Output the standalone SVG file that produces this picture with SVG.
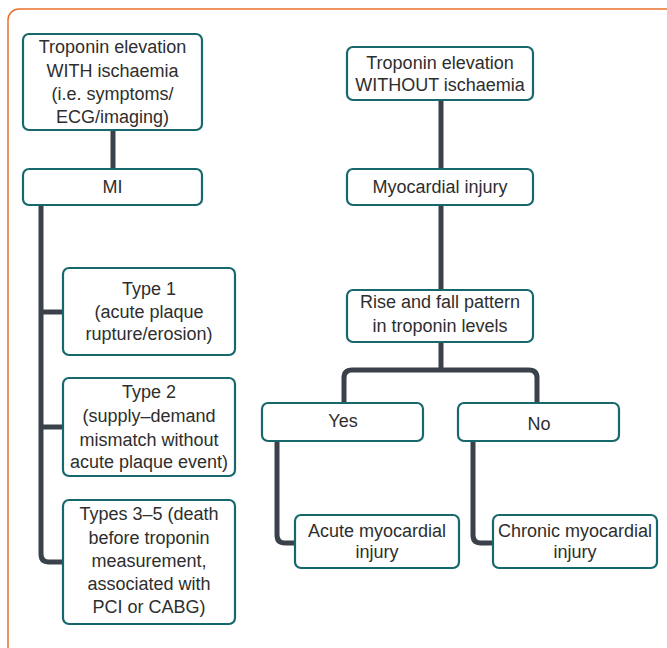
<svg xmlns="http://www.w3.org/2000/svg" width="667" height="648" viewBox="0 0 667 648">
<style>
.frame{fill:none;stroke:#E8712E;stroke-width:1.5}
.box{fill:#fff;stroke:#17686C;stroke-width:2.2}
.con{fill:none;stroke:#3B414B;stroke-width:5;stroke-linejoin:round}
text{font-family:"Liberation Sans",Arial,sans-serif;font-size:18px;fill:#2E2E2E;text-anchor:middle}
</style>
<rect width="667" height="648" fill="#fff"/>
<rect class="frame" x="8" y="9" width="720" height="700" rx="11"/>
<g id="connectors">
<path class="con" d="M113 130V169"/>
<path class="con" d="M41 205V554q0 8 8 8H63"/>
<path class="con" d="M41 312H63"/>
<path class="con" d="M41 427H63"/>
<path class="con" d="M441 100V169"/>
<path class="con" d="M441 205V290"/>
<path class="con" d="M441 342V370"/>
<path class="con" d="M344 403V378q0-8 8-8H529q8 0 8 8V403"/>
<path class="con" d="M277 441V535q0 8 8 8H295"/>
<path class="con" d="M473 441V535q0 8 8 8H493"/>
</g>
<g id="with">
<rect class="box" x="23" y="34" width="179" height="96" rx="6"/>
<text x="112.5" y="53">Troponin elevation</text>
<text x="112.5" y="77">WITH ischaemia</text>
<text x="112.5" y="100">(i.e. symptoms/</text>
<text x="112.5" y="123">ECG/imaging)</text>
</g>
<g id="mi">
<rect class="box" x="23" y="169" width="179" height="36" rx="6"/>
<text x="112.5" y="193">MI</text>
</g>
<g id="type1">
<rect class="box" x="63" y="268" width="172" height="87" rx="6"/>
<text x="149" y="295">Type 1</text>
<text x="149" y="318">(acute plaque</text>
<text x="149" y="340">rupture/erosion)</text>
</g>
<g id="type2">
<rect class="box" x="63" y="378" width="172" height="98" rx="6"/>
<text x="149" y="398">Type 2</text>
<text x="149" y="422">(supply–demand</text>
<text x="149" y="446">mismatch without</text>
<text x="149" y="468">acute plaque event)</text>
</g>
<g id="type35">
<rect class="box" x="63" y="500" width="172" height="124" rx="6"/>
<text x="149" y="520">Types 3–5 (death</text>
<text x="149" y="544">before troponin</text>
<text x="149" y="567">measurement,</text>
<text x="149" y="590">associated with</text>
<text x="149" y="613">PCI or CABG)</text>
</g>
<g id="without">
<rect class="box" x="347" y="47" width="186" height="53" rx="6"/>
<text x="440" y="69">Troponin elevation</text>
<text x="440" y="91">WITHOUT ischaemia</text>
</g>
<g id="injury">
<rect class="box" x="347" y="169" width="186" height="36" rx="6"/>
<text x="440" y="193">Myocardial injury</text>
</g>
<g id="rise">
<rect class="box" x="347" y="290" width="186" height="52" rx="6"/>
<text x="440" y="308">Rise and fall pattern</text>
<text x="440" y="332">in troponin levels</text>
</g>
<g id="yes">
<rect class="box" x="262" y="403" width="161" height="38" rx="6"/>
<text x="343" y="427">Yes</text>
</g>
<g id="no">
<rect class="box" x="458" y="403" width="161" height="38" rx="6"/>
<text x="539" y="430">No</text>
</g>
<g id="acute">
<rect class="box" x="295" y="515" width="164" height="53" rx="6"/>
<text x="377" y="537">Acute myocardial</text>
<text x="377" y="558">injury</text>
</g>
<g id="chronic">
<rect class="box" x="493" y="515" width="164" height="53" rx="6"/>
<text x="575" y="537">Chronic myocardial</text>
<text x="575" y="558">injury</text>
</g>
</svg>
